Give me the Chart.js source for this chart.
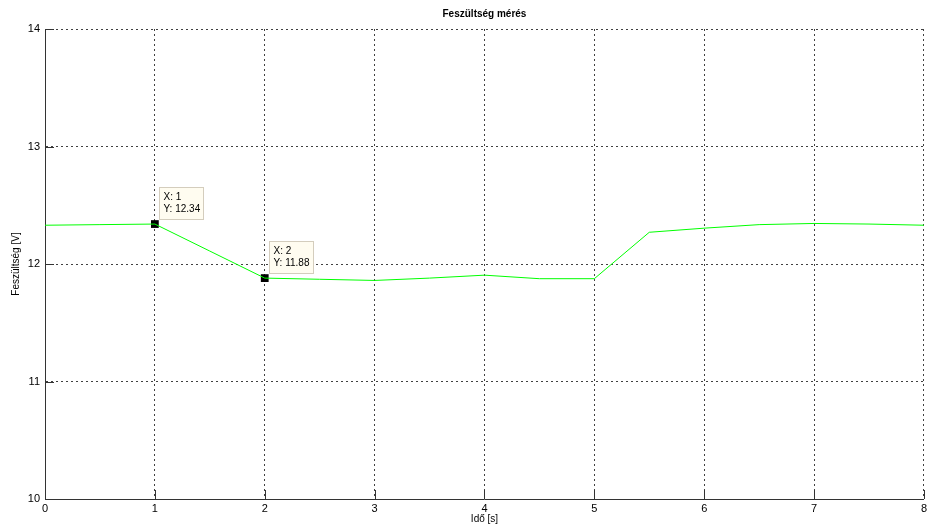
<!DOCTYPE html>
<html>
<head>
<meta charset="utf-8">
<script src="https://cdn.jsdelivr.net/npm/chart.js@4"></script>
<style>
    html, body { margin: 0; padding: 0; background: #fff; overflow: hidden; }
    #wrap { width: 930px; height: 528px; }
</style>
</head>
<body>
<div id="wrap"><canvas id="voltChart"></canvas></div>
<script>
// Measurement data (time in s, voltage in V)
const timeValues = [0, 0.5, 1, 1.5, 2, 2.5, 3, 3.5, 4, 4.5, 5, 5.5, 6, 6.5, 7, 7.5, 8];
const voltValues = [12.33, 12.335, 12.34, 12.11, 11.88, 11.87, 11.86, 11.88, 11.905, 11.875, 11.875, 12.27, 12.305, 12.335, 12.345, 12.34, 12.33];

// Data tips shown on the plot
const tipX = [1, 2];
const tipY = [12.34, 11.88];

const xTicks = [0, 1, 2, 3, 4, 5, 6, 7, 8];
const yTicks = [10, 11, 12, 13, 14];

const FONT = 'Liberation Sans, Arial, sans-serif';

// Draws the MATLAB-style inward tick marks and the data tip boxes
const matlabExtras = {
    id: 'matlabExtras',
    afterDatasetsDraw(chart) {
        const ctx = chart.ctx;
        const xs = chart.scales.x;
        const ys = chart.scales.y;
        const area = chart.chartArea;

        ctx.save();
        ctx.strokeStyle = '#333';
        ctx.lineWidth = 1;
        ctx.beginPath();
        xTicks.forEach(v => {
            const px = Math.round(xs.getPixelForValue(v)) + 0.5;
            ctx.moveTo(px, area.bottom);
            ctx.lineTo(px, area.bottom - 9);
        });
        yTicks.forEach(v => {
            const py = Math.round(ys.getPixelForValue(v)) + 0.5;
            ctx.moveTo(area.left, py);
            ctx.lineTo(area.left + 9, py);
        });
        ctx.stroke();

        // data tips
        tipX.forEach((tx, i) => {
            const px = xs.getPixelForValue(tx);
            const py = ys.getPixelForValue(tipY[i]);
            const bx = Math.round(px) + 4.5;
            const by = Math.round(py) - 36.5;
            const w = 44, h = 32;
            ctx.fillStyle = '#fffcf0';
            ctx.fillRect(bx, by, w, h);
            ctx.strokeStyle = '#d4cdbd';
            ctx.strokeRect(bx, by, w, h);
            ctx.fillStyle = '#000';
            ctx.font = '10px ' + FONT;
            ctx.textAlign = 'left';
            ctx.textBaseline = 'middle';
            ctx.fillText('X: ' + tx, bx + 4, by + 10);
            ctx.fillText('Y: ' + tipY[i].toFixed(2), bx + 4, by + 22);
        });
        ctx.restore();
    }
};

const lineData = timeValues.map((t, i) => ({ x: t, y: voltValues[i] }));
const tipData = tipX.map((t, i) => ({ x: t, y: tipY[i] }));

new Chart(document.getElementById('voltChart'), {
    type: 'line',
    data: {
        datasets: [{
            label: 'Feszültség',
            data: lineData,
            borderColor: '#00ff00',
            borderWidth: 1,
            pointRadius: 0,
            tension: 0
        }, {
            label: 'Data tips',
            data: tipData,
            showLine: false,
            pointStyle: 'rect',
            pointRadius: 5.5,
            pointBackgroundColor: '#000',
            pointBorderColor: '#000',
            borderWidth: 0
        }]
    },
    options: {
        responsive: true,
        maintainAspectRatio: false,
        animation: false,
        layout: { padding: 0 },
        plugins: {
            legend: { display: false },
            tooltip: { enabled: false },
            title: {
                display: true,
                fullSize: false,
                text: 'Feszültség mérés',
                color: '#000',
                font: { family: FONT, size: 10, weight: 'bold', lineHeight: 1.2 },
                padding: { top: 8, bottom: 9 }
            }
        },
        scales: {
            x: {
                type: 'linear',
                min: 0,
                max: 8,
                afterFit: scale => { scale.height = 29; },
                afterBuildTicks: scale => { scale.ticks = xTicks.map(v => ({ value: v })); },
                ticks: {
                    color: '#000',
                    padding: 3,
                    maxRotation: 0,
                    font: { family: FONT, size: 11 }
                },
                grid: {
                    color: 'rgba(0,0,0,0.75)',
                    drawTicks: false
                },
                border: { display: true, color: '#333', width: 1, dash: [2, 3] },
                title: {
                    display: true,
                    text: 'Idő [s]',
                    color: '#000',
                    font: { family: FONT, size: 10, lineHeight: 1.2 },
                    padding: { top: 3, bottom: 3 }
                }
            },
            y: {
                min: 10,
                max: 14,
                afterFit: scale => { scale.width = 45; },
                afterBuildTicks: scale => { scale.ticks = yTicks.map(v => ({ value: v })); },
                ticks: {
                    color: '#000',
                    padding: 5,
                    font: { family: FONT, size: 11 }
                },
                grid: {
                    color: 'rgba(0,0,0,0.75)',
                    drawTicks: false
                },
                border: { display: true, color: '#333', width: 1, dash: [2, 3] },
                title: {
                    display: true,
                    text: 'Feszültség [V]',
                    color: '#000',
                    font: { family: FONT, size: 10, lineHeight: 1.2 },
                    padding: { top: 10, bottom: 3 }
                }
            }
        }
    },
    plugins: [matlabExtras]
});
</script>
</body>
</html>
